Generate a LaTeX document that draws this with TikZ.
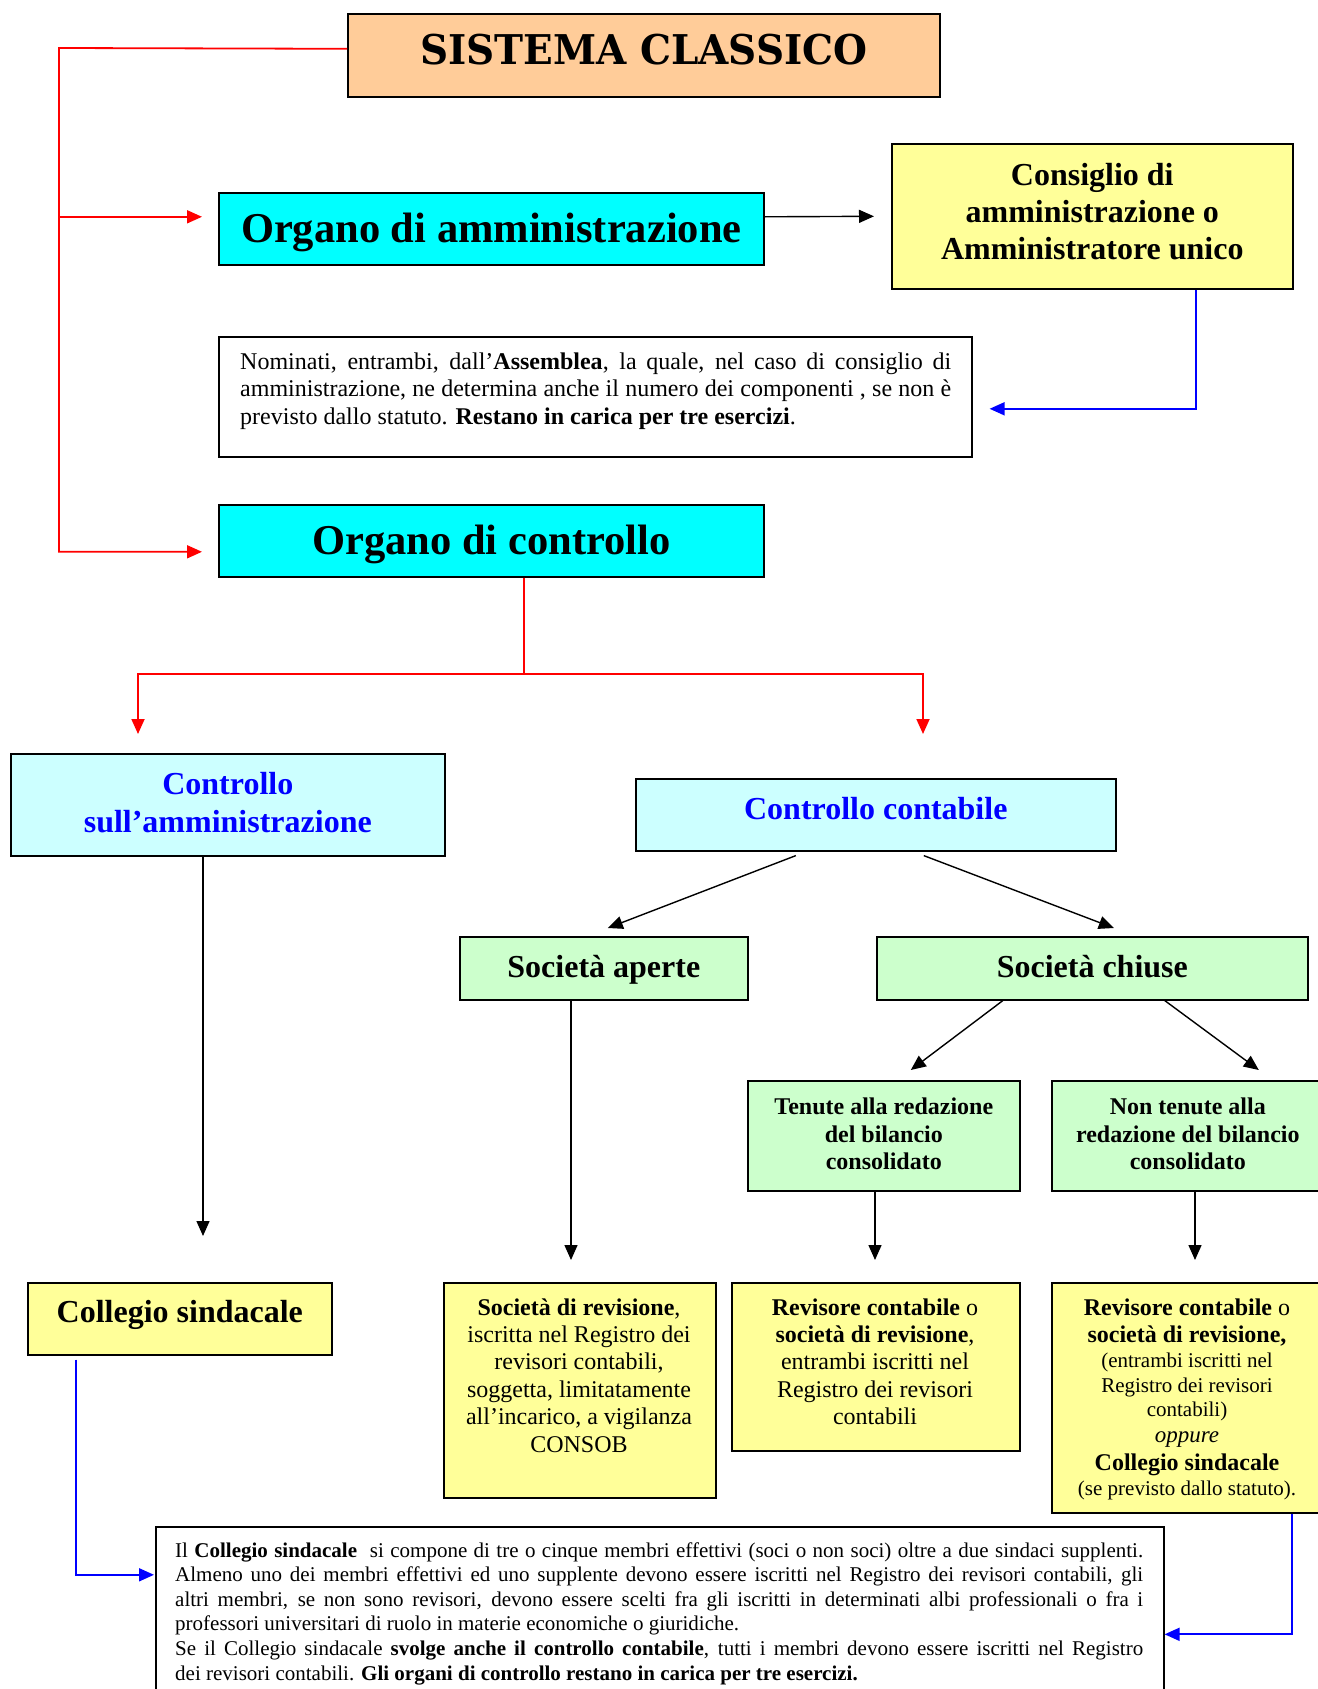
\documentclass[tikz,border=0pt]{standalone}
\usepackage{fontspec}
\setmainfont{Liberation Serif}
\newfontfamily\titlefont{DejaVu Serif}[FakeStretch=0.95]
\usetikzlibrary{arrows.meta}
\definecolor{peach}{HTML}{FFCC99}
\definecolor{cyanbox}{HTML}{00FFFF}
\definecolor{ltcyan}{HTML}{CCFFFF}
\definecolor{ltgreen}{HTML}{CCFFCC}
\definecolor{ltyellow}{HTML}{FFFF99}
\definecolor{myblue}{HTML}{0000FF}
\definecolor{myred}{HTML}{FF0000}
\newcommand\fsz[2]{\fontsize{#1}{#2}\selectfont}
\newcommand\jline[1]{\noindent\makebox[\linewidth][s]{#1}\par}
\begin{document}
\begin{tikzpicture}[x=1pt,y=-1pt,
  box/.style={draw=black,line width=1.6pt,anchor=north west,inner sep=0pt,align=center},
  txt/.style={inner sep=0pt,anchor=base},
  tip/.style={-{Triangle[length=15pt,width=13pt]}},
  conn/.style={line width=1.4pt,draw=black,tip},
  redl/.style={line width=1.8pt,draw=myred},
  bluel/.style={line width=1.8pt,draw=myblue},
  head/.style={font=\fsz{32}{36.8}\bfseries}
]
\useasboundingbox (0,0) rectangle (1317,1689);
\fill[white] (0,0) rectangle (1317,1689);

% boxes
\node[box,fill=peach,minimum width=592pt,minimum height=83pt,
      font=\titlefont\bfseries\fsz{41}{45},text depth=13pt] (sys) at (347,13) {SISTEMA CLASSICO};
\node[box,fill=cyanbox,minimum width=545pt,minimum height=72pt,
      font=\fsz{42.5}{50}\bfseries,text depth=2pt] (oadm) at (218,192) {Organo di amministrazione};
\node[box,fill=ltyellow,minimum width=401pt,minimum height=145pt,head,text depth=10pt] (cons) at (891,143)
      {Consiglio di\\ amministrazione o\\ Amministratore unico};
\node[box,minimum width=753pt,minimum height=120pt] (nom) at (218,336) {};
\node[txt,anchor=base west] (nomt) at (240,369) {\parbox[t]{711pt}{\fsz{24}{27.6}%
  \jline{Nominati, entrambi, dall’\textbf{Assemblea}, la quale, nel caso di consiglio di}%
  \jline{amministrazione, ne determina anche il numero dei componenti , se non è}%
  \noindent previsto dallo statuto. \textbf{Restano in carica per tre esercizi}.}};
\node[box,fill=cyanbox,minimum width=545pt,minimum height=72pt,
      font=\fsz{42.5}{50}\bfseries,text depth=2pt] (octl) at (218,504) {Organo di controllo};
\node[box,fill=ltcyan,minimum width=434pt,minimum height=102pt,font=\fsz{32}{38}\bfseries,
      text=myblue,text depth=4pt] (csa) at (10,753) {Controllo\\ sull’amministrazione};
\node[box,fill=ltcyan,minimum width=480pt,minimum height=72pt,font=\fsz{32}{38}\bfseries,
      text=myblue,text depth=12pt] (cc) at (635,778) {Controllo contabile};
\node[box,fill=ltgreen,minimum width=288pt,minimum height=63pt,head,text depth=3pt] (sa) at (459,936) {Società aperte};
\node[box,fill=ltgreen,minimum width=431pt,minimum height=63pt,head,text depth=3pt] (sc) at (876,936) {Società chiuse};
\node[box,fill=ltgreen,minimum width=272pt,minimum height=110pt,font=\fsz{24}{27.6}\bfseries,text depth=4pt] (ten) at (747,1080)
      {Tenute alla redazione\\ del bilancio\\ consolidato};
\node[box,fill=ltgreen,minimum width=272pt,minimum height=110pt,font=\fsz{24}{27.6}\bfseries,text depth=4pt] (nten) at (1051,1080)
      {Non tenute alla\\ redazione del bilancio\\ consolidato};
\node[box,fill=ltyellow,minimum width=304pt,minimum height=72pt,head,text depth=14pt] (cs) at (27,1282)
      {Collegio sindacale};
\node[box,fill=ltyellow,minimum width=272pt,minimum height=215pt] (sr) at (443,1282) {};
\node[txt] (srt) at (579,1315) {\parbox[t]{266pt}{\centering\fsz{24}{27.4}%
  \textbf{Società di revisione},\\ iscritta nel Registro dei\\ revisori contabili,\\
  soggetta, limitatamente\\ all’incarico, a vigilanza\\ CONSOB}};
\node[box,fill=ltyellow,minimum width=288pt,minimum height=168pt] (rc) at (731,1282) {};
\node[txt] (rct) at (875,1315) {\parbox[t]{280pt}{\centering\fsz{24}{27.4}%
  \textbf{Revisore contabile} o\\ \textbf{società di revisione},\\ entrambi iscritti nel\\
  Registro dei revisori\\ contabili}};
\node[box,fill=ltyellow,minimum width=272pt,minimum height=230pt] (rcr) at (1051,1282) {};
\node[txt] (rcrt) at (1187,1315) {\parbox[t]{268pt}{\centering\fsz{24}{27}%
  \textbf{Revisore contabile} o\\ \textbf{società di revisione,}\\
  \fsz{21}{25}(entrambi iscritti nel\\ Registro dei revisori\\ \fsz{21}{24}contabili)\\
  \fsz{23}{26}\textit{oppure}\\ \fsz{24}{28}\textbf{Collegio sindacale}\\
  \fsz{21}{25}(se previsto dallo statuto).}};
\node[box,minimum width=1008pt,minimum height=175pt] (bot) at (155,1526) {};
\node[txt,anchor=base west] (bott) at (175,1557) {\parbox[t]{968pt}{\fsz{21}{24.6}%
  \jline{Il \textbf{Collegio sindacale}\ \ si compone di tre o cinque membri effettivi (soci o non soci) oltre a due sindaci supplenti.}%
  \jline{Almeno uno dei membri effettivi ed uno supplente devono essere iscritti nel Registro dei revisori contabili, gli}%
  \jline{altri membri, se non sono revisori, devono essere scelti fra gli iscritti in determinati albi professionali o fra i}%
  \noindent professori universitari di ruolo in materie economiche o giuridiche.\par
  \jline{Se il Collegio sindacale \textbf{svolge anche il controllo contabile}, tutti i membri devono essere iscritti nel Registro}%
  \noindent dei revisori contabili. \textbf{Gli organi di controllo restano in carica per tre esercizi.}}};

% red connectors (top)
\coordinate (rcorner) at (59,48);
\coordinate (rA) at ([xshift=-16pt,yshift=12pt]oadm.west);
\coordinate (rB) at ([xshift=-16pt,yshift=-11pt]octl.west);
\draw[redl,tip] ([yshift=6.5pt]sys.west) -- (rcorner) |- (rB);
\draw[redl,tip] (rcorner |- rA) -- (rA);

% organo amministrazione -> consiglio
\draw[conn] ([yshift=12pt]oadm.east) -- ([xshift=-17pt]cons.west);
% consiglio -> nominati
\draw[bluel,tip] ([xshift=103.5pt]cons.south) |- ([xshift=17pt,yshift=-12pt]nom.east);

% red connectors (controllo)
\coordinate (rmid) at ([xshift=32.5pt,yshift=-96pt]octl.south);
\coordinate (rL) at (138,734);
\coordinate (rR) at (923,734);
\draw[redl] ([xshift=32.5pt]octl.south) -- (rmid);
\draw[redl,tip] (rmid) -| (rL);
\draw[redl,tip] (rmid) -| (rR);

% controllo contabile branches
\draw[conn] ([xshift=-80pt,yshift=-4pt]cc.south) -- ([xshift=4pt,yshift=8pt]sa.north);
\draw[conn] ([xshift=48pt,yshift=-4pt]cc.south) -- ([xshift=21.5pt,yshift=8pt]sc.north);
\draw[conn] ([xshift=-89.5pt]sc.south) -- ([xshift=27pt,yshift=10pt]ten.north);
\draw[conn] ([xshift=72.5pt]sc.south) -- ([xshift=71pt,yshift=10pt]nten.north);

% vertical arrows
\coordinate (aL) at (203,1236);
\coordinate (aS) at (571,1260);
\coordinate (aT) at (875,1260);
\coordinate (aN) at (1195,1260);
\draw[conn] (csa.south -| aL) -- (aL);
\draw[conn] (sa.south -| aS) -- (aS);
\draw[conn] (ten.south -| aT) -- (aT);
\draw[conn] (nten.south -| aN) -- (aN);

% blue connectors to bottom box
\draw[bluel,tip] ([xshift=-104pt,yshift=-4pt]cs.south) |- ([xshift=-1pt,yshift=39.5pt]bot.west);
\draw[bluel,tip] ([xshift=104pt]rcr.south) |- ([yshift=-20pt]bot.east);
\end{tikzpicture}
\end{document}
